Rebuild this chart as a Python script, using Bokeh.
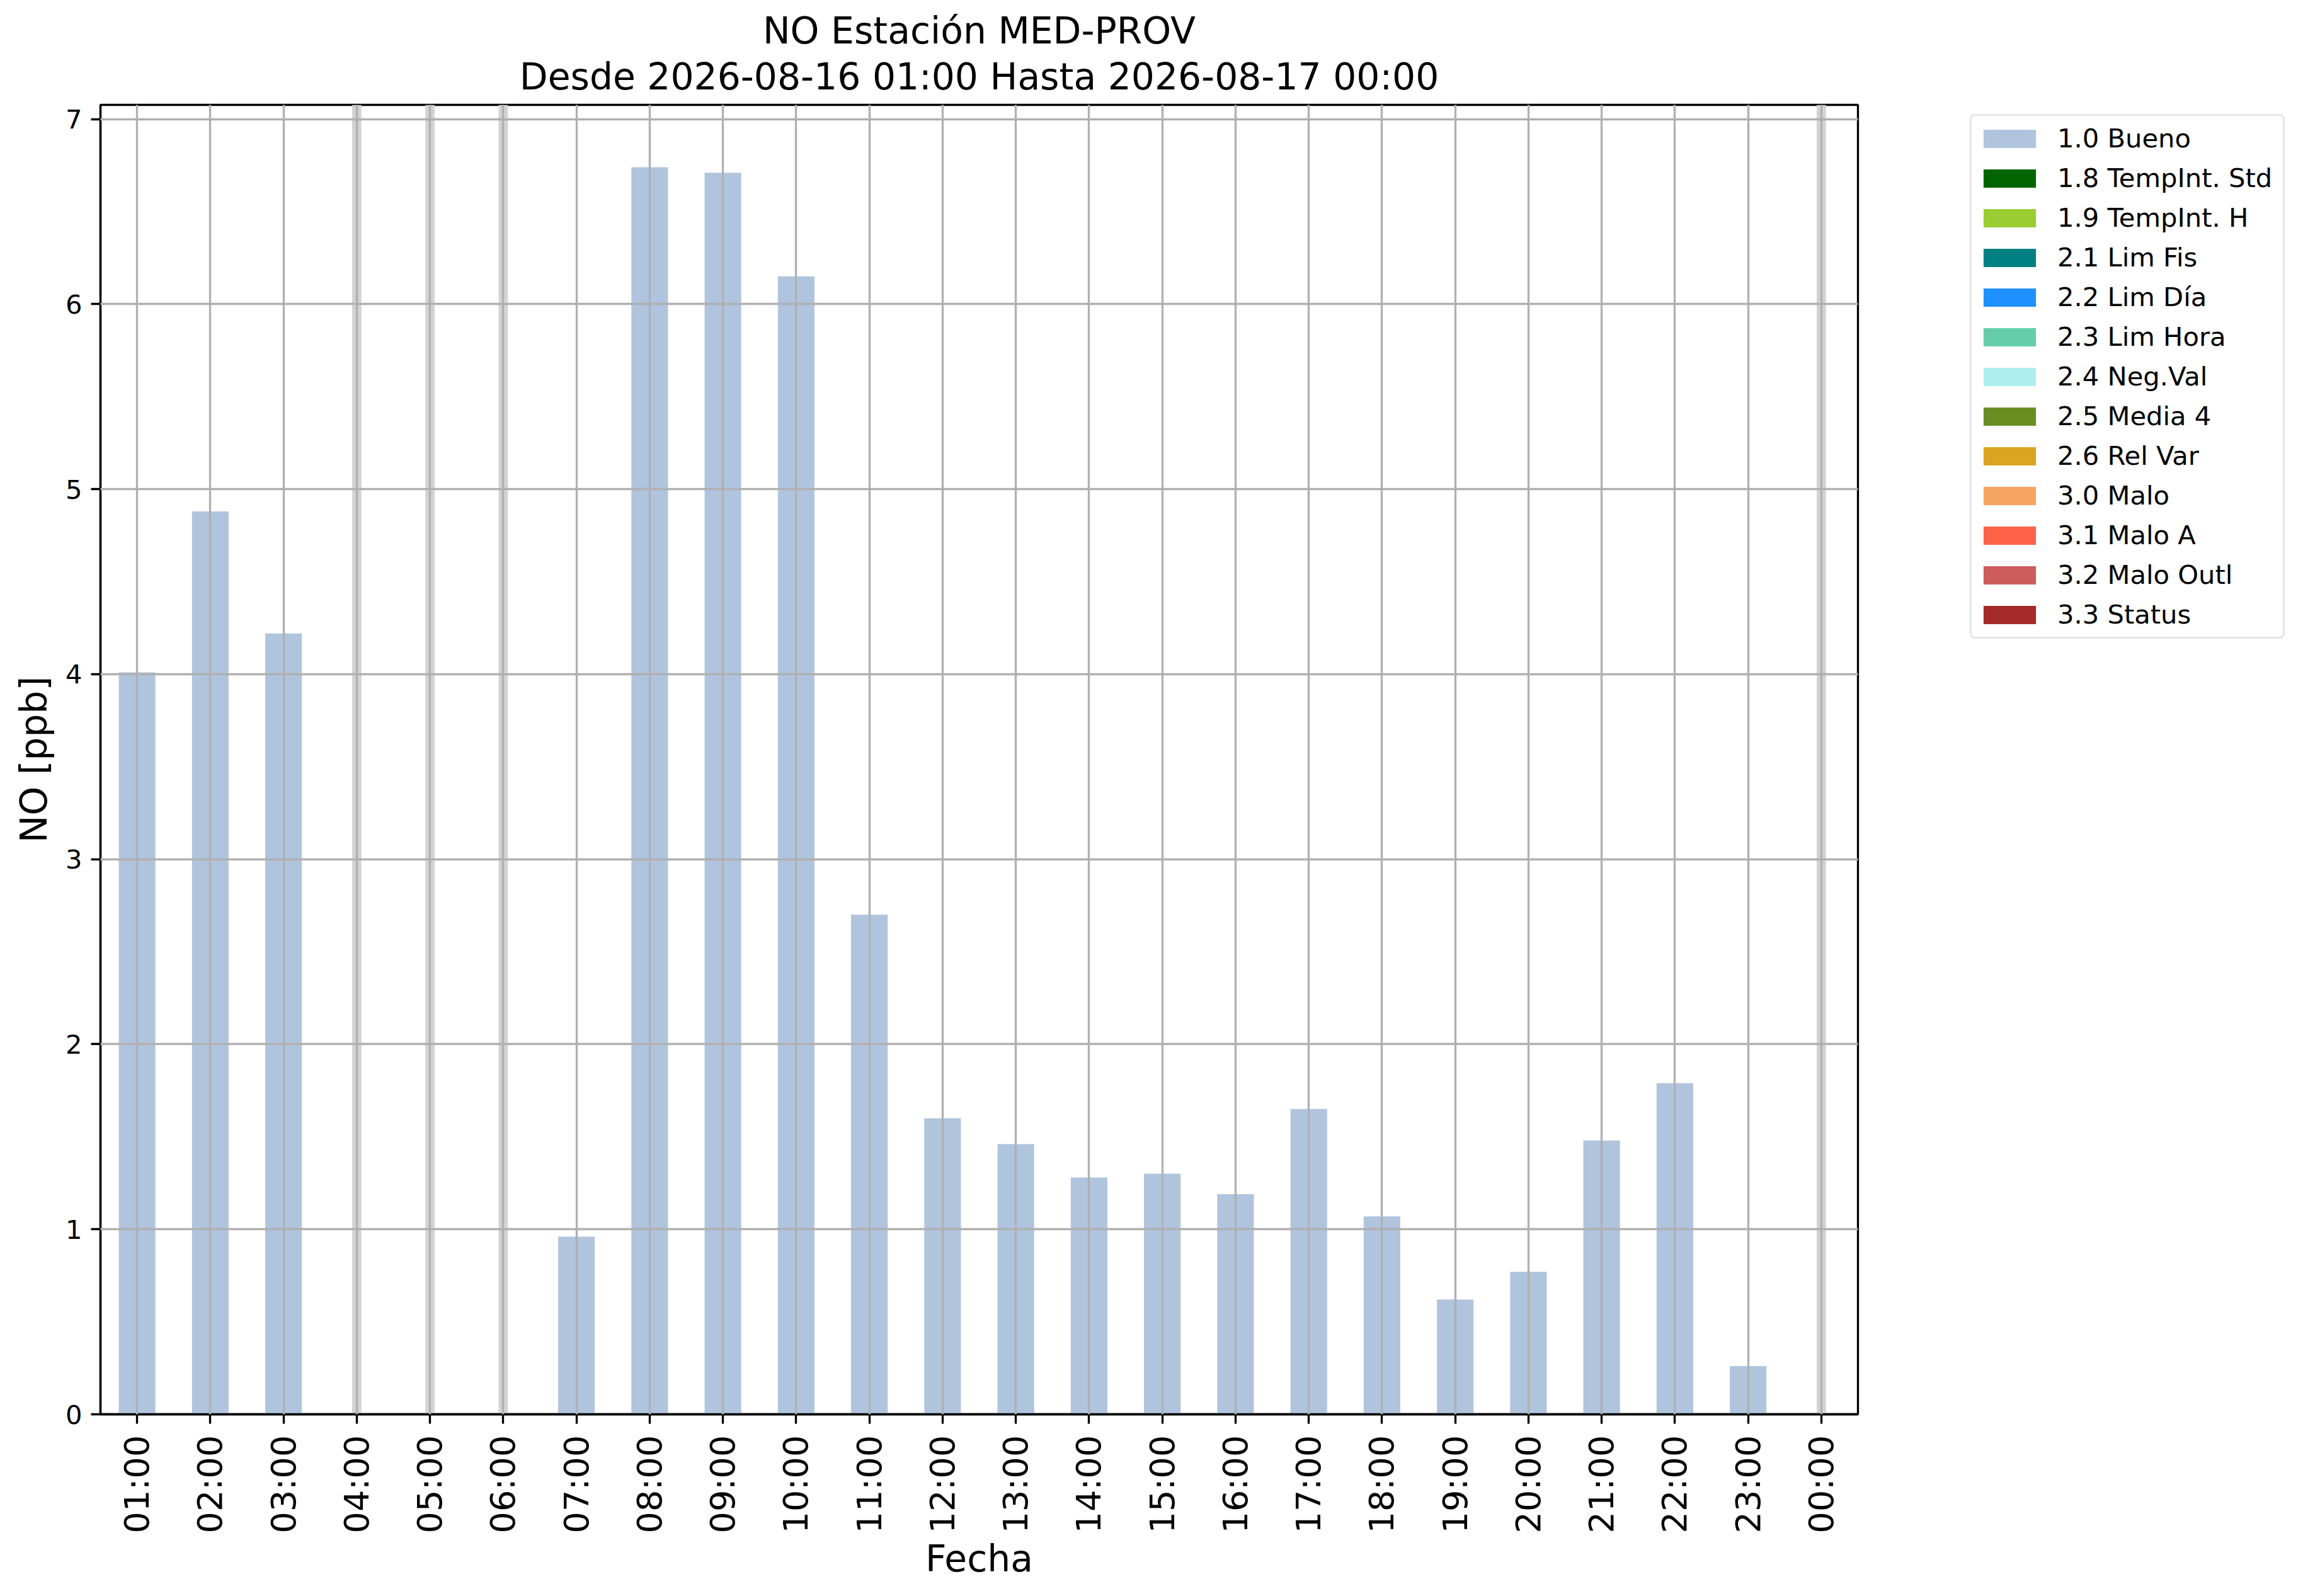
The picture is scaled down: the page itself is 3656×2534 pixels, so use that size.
import math
from bokeh.plotting import figure
from bokeh.layouts import row
from bokeh.models import Range1d, FixedTicker, Span, Title, Legend, LegendItem
from bokeh.embed import file_html
from bokeh.resources import INLINE

# ---------------- data ----------------
hours = ["01:00", "02:00", "03:00", "04:00", "05:00", "06:00", "07:00", "08:00",
         "09:00", "10:00", "11:00", "12:00", "13:00", "14:00", "15:00", "16:00",
         "17:00", "18:00", "19:00", "20:00", "21:00", "22:00", "23:00", "00:00"]
no_ppb = [4.01, 4.88, 4.22, None, None, None, 0.96, 6.74,
          6.71, 6.15, 2.70, 1.60, 1.46, 1.28, 1.30, 1.19,
          1.65, 1.07, 0.62, 0.77, 1.48, 1.79, 0.26, None]
bar_flags = ["1.0 Bueno", "1.0 Bueno", "1.0 Bueno", None, None, None, "1.0 Bueno", "1.0 Bueno",
             "1.0 Bueno", "1.0 Bueno", "1.0 Bueno", "1.0 Bueno", "1.0 Bueno", "1.0 Bueno", "1.0 Bueno", "1.0 Bueno",
             "1.0 Bueno", "1.0 Bueno", "1.0 Bueno", "1.0 Bueno", "1.0 Bueno", "1.0 Bueno", "1.0 Bueno", None]
flag_labels = ["1.0 Bueno", "1.8 TempInt. Std", "1.9 TempInt. H", "2.1 Lim Fis", "2.2 Lim Día",
               "2.3 Lim Hora", "2.4 Neg.Val", "2.5 Media 4", "2.6 Rel Var", "3.0 Malo",
               "3.1 Malo A", "3.2 Malo Outl", "3.3 Status"]
flag_colors = ["#b0c4de", "#006400", "#9acd32", "#008080", "#1e90ff",
               "#66cdaa", "#afeeee", "#6b8e23", "#daa520", "#f4a460",
               "#ff6347", "#cd5c5c", "#a52a2a"]
y_ticks = [0, 1, 2, 3, 4, 5, 6, 7]
title_lines = ["NO Estación MED-PROV", "Desde 2026-08-16 01:00 Hasta 2026-08-17 00:00"]
x_label = "Fecha"
y_label = "NO [ppb]"

# ---------------- layout ----------------
W, H = 3640, 2518
FL, FT = 159, 166
FW, FH = 2790, 2079
FR = 30
MAIN_W = FL + FW + FR
LEG_W = W - MAIN_W
FONT = "DejaVu Sans"
LW = 3.33

positions = list(range(len(hours)))
y_max = max(v for v in no_ppb if v is not None) * 1.05

p = figure(width=MAIN_W, height=H, output_backend="svg", toolbar_location=None,
           x_range=Range1d(-0.5, len(hours) - 0.5), y_range=Range1d(0, y_max),
           min_border_left=FL, min_border_top=FT,
           min_border_right=FR, min_border_bottom=H - FT - FH)
p.background_fill_color = "white"
p.border_fill_color = "white"
p.outline_line_color = "black"
p.outline_line_width = LW

# title: first line outermost, second line nearest the frame
p.title.text = title_lines[0]
p.title.align = "center"
p.title.text_font = FONT
p.title.text_font_size = "58.33px"
p.title.text_font_style = "normal"
p.title.text_color = "black"
p.title.standoff = -16
p.add_layout(Title(text=title_lines[1], align="center", text_font=FONT,
                   text_font_size="58.33px", text_font_style="normal",
                   text_color="black", standoff=22), "above")

# missing-value bands
for i, v in zip(positions, no_ppb):
    if v is None:
        p.add_layout(Span(location=i, dimension="height", line_color="#d3d3d3",
                          line_width=14.7, level="underlay"))

# bars per quality flag
for lab, col in zip(flag_labels, flag_colors):
    xs = [i for i, v, f in zip(positions, no_ppb, bar_flags) if v is not None and f == lab]
    ys = [v for v, f in zip(no_ppb, bar_flags) if v is not None and f == lab]
    if xs:
        p.vbar(x=xs, top=ys, bottom=0, width=0.5, fill_color=col, line_color=None)

# axes
xt = FixedTicker(ticks=positions)
p.xaxis.ticker = xt
p.xaxis.major_label_overrides = {i: h for i, h in zip(positions, hours)}
p.xaxis.major_label_orientation = math.pi / 2
p.xaxis.major_label_text_font = FONT
p.xaxis.major_label_text_font_size = "54.17px"
p.xaxis.major_label_standoff = 18
p.xaxis.axis_label = x_label
p.xaxis.axis_label_standoff = 3

yt = FixedTicker(ticks=y_ticks)
p.yaxis.ticker = yt
p.yaxis.major_label_text_font = FONT
p.yaxis.major_label_text_font_size = "41.67px"
p.yaxis.major_label_standoff = 14
p.yaxis.axis_label = y_label
p.yaxis.axis_label_standoff = 13

for ax in (p.xaxis, p.yaxis):
    ax.axis_label_text_font = FONT
    ax.axis_label_text_font_size = "58.33px"
    ax.axis_label_text_font_style = "normal"
    ax.axis_label_text_color = "black"
    ax.major_label_text_color = "black"
    ax.axis_line_width = LW
    ax.axis_line_color = "black"
    ax.major_tick_line_width = LW
    ax.major_tick_line_color = "black"
    ax.major_tick_out = 15
    ax.major_tick_in = 0
    ax.minor_tick_line_color = None

p.xgrid.ticker = xt
p.ygrid.ticker = yt
for g in (p.xgrid, p.ygrid):
    g.grid_line_color = "#b0b0b0"
    g.grid_line_width = LW
    g.level = "overlay"

# ---------------- legend panel (separate figure at the right) ----------------
lp = figure(width=LEG_W, height=H, output_backend="svg", toolbar_location=None,
            x_axis_type=None, y_axis_type=None,
            x_range=Range1d(0, 1), y_range=Range1d(0, 1),
            min_border_left=0, min_border_right=0, min_border_top=0, min_border_bottom=0)
lp.outline_line_color = None
lp.background_fill_color = "white"
lp.border_fill_color = "white"
lp.title.visible = False

leg_renderers = []
for lab, col in zip(flag_labels, flag_colors):
    r = lp.vbar(x=[float("nan")], top=[float("nan")], bottom=0, width=0.5,
                fill_color=col, line_color=None)
    leg_renderers.append(r)

# the row layout aligns this figure's frame with the main frame (top 166, bottom 2245)
LEG_LEFT_ABS, LEG_BOTTOM_ABS = 3127, 1014
FRAME_BOTTOM_ABS = FT + FH
legend = Legend(items=[LegendItem(label=l, renderers=[r]) for l, r in zip(flag_labels, leg_renderers)],
                location=(LEG_LEFT_ABS - MAIN_W, FRAME_BOTTOM_ABS - LEG_BOTTOM_ABS),
                orientation="vertical")
legend.margin = 0
legend.padding = 8
legend.spacing = 8
legend.glyph_width = 104
legend.glyph_height = 36
legend.label_height = 55
legend.label_width = 350
legend.label_standoff = 24
legend.label_text_font = FONT
legend.label_text_font_size = "41.67px"
legend.label_text_color = "black"
legend.border_line_color = "#cccccc"
legend.border_line_width = LW
legend.background_fill_color = "white"
legend.background_fill_alpha = 1.0
if "border_radius" in Legend.properties():
    legend.border_radius = 8
lp.add_layout(legend)

layout = row(p, lp)
open("out.html", "w").write(file_html(layout, INLINE))
